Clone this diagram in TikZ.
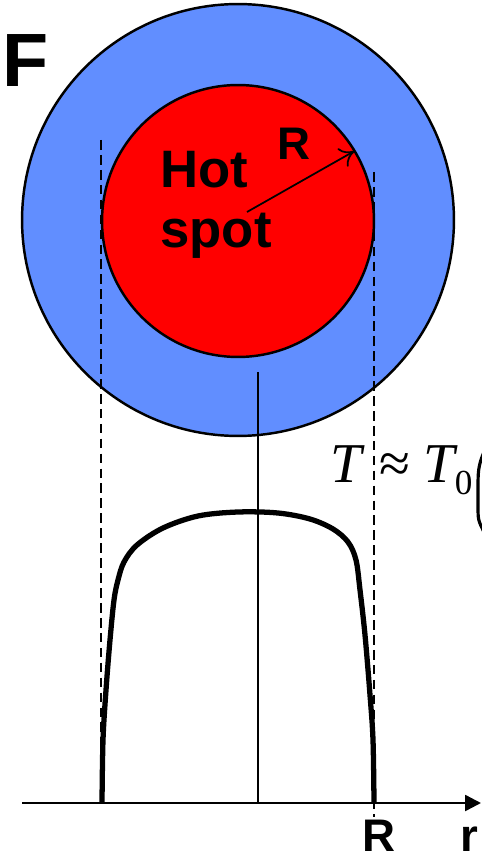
\documentclass[tikz,border=0pt]{standalone}
\usepackage{fontspec}
\setmainfont{Liberation Sans}
\newfontfamily\formulafont{Liberation Serif}
\usepackage{tikz}
\usetikzlibrary{arrows.meta,positioning}

\definecolor{coolblue}{RGB}{97,142,255}
\definecolor{hotred}{RGB}{255,0,0}

\begin{document}
\begin{tikzpicture}[
    x=0.02cm, y=-0.02cm,
    disc/.style={circle, draw=black, line width=1.4pt, inner sep=0pt, outer sep=0pt},
    guide/.style={line width=1.4pt, dash pattern=on 5.5pt off 3pt},
    bigtext/.style={font=\bfseries\fontsize{30}{34}\selectfont, inner sep=0pt, anchor=base west},
    marktext/.style={font=\bfseries\fontsize{26}{30}\selectfont, inner sep=0pt, anchor=base west}
    ]
    \useasboundingbox (0,0) rectangle (481,861);
    % the two discs
    \node[disc, fill=coolblue, minimum size=8.64cm] (Outer) at (238,220) {};
    \node[disc, fill=hotred, minimum size=5.44cm] (Hot) at (238,221) {};
    \node[anchor=base west, inner sep=0pt, font=\bfseries\fontsize{43}{43}\selectfont] (Fig) at (2,87) {F};
    \node[bigtext] (HotWord) at (160,188) {Hot};
    \node[bigtext] (SpotWord) at (160,248) {spot};
    \node[marktext] (RTop) at (277,160) {R};
    \coordinate (RStart) at (247,212);
    \draw[line width=1pt, -{To[length=8pt, width=12pt]}] (RStart) -- (Hot.31);
    % guide lines and axis
    \coordinate (LeftTop) at (101,140);
    \coordinate (LeftBot) at (101,803);
    \coordinate (RightTop) at (374,172);
    \coordinate (RightBot) at (374,817);
    \coordinate (MidTop) at (258,372);
    \coordinate (Origin) at (22,803);
    \coordinate (MidBot) at (258,803);
    \coordinate (AxisEnd) at (481,803);
    \draw[guide] (LeftTop) -- (LeftBot);
    \draw[guide] (RightTop) -- (RightBot);
    \draw[line width=1.2pt] (MidTop) -- (MidBot);
    \draw[line width=1.4pt, -{Triangle[length=9pt, width=9pt]}] (Origin) -- (AxisEnd);
    % temperature profile
    \draw[line width=3pt, line join=round] plot[smooth, tension=0.55] coordinates {
      (102,803) (103,740) (106,690) (110,640) (114,600) (118,580) (124,562) (137,545)
      (163,528) (198,516) (238,512) (278,513) (310,519) (333,529) (348,542) (356,560)
      (360,590) (365,635) (370,695) (373,740) (374,803)};
    \node[marktext] (RBot) at (362,851) {R};
    \node[marktext] (RAxis) at (460,851) {r};
    % formula
    \node[anchor=base west, inner sep=0pt, font=\formulafont\fontsize{32}{32}\selectfont] (Formula) at (330,482)
      {\textit{T} ≈ \textit{T}\kern-2pt\raisebox{-7pt}{\fontsize{20}{20}\selectfont 0}};
    \coordinate (ParTop) at (484,452);
    \coordinate (ParBot) at (484,532);
    \draw[line width=1.8pt] (ParTop) .. controls (478,466) and (478,472) .. (478,490)
      -- (478,505) .. controls (478,520) .. (ParBot);
\end{tikzpicture}
\end{document}
